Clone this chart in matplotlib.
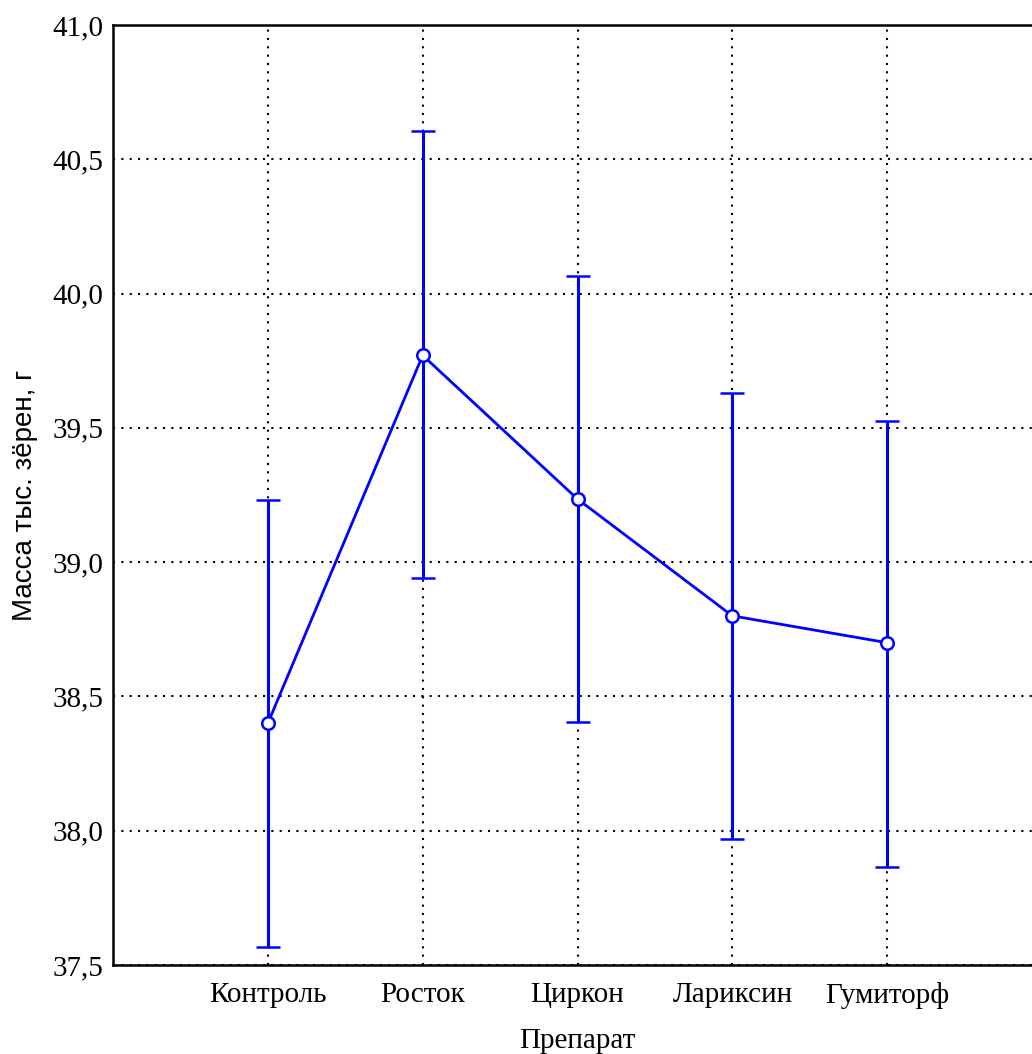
import matplotlib
matplotlib.use("Agg")
import matplotlib.pyplot as plt
import numpy as np

categories = ["Контроль", "Росток", "Циркон", "Лариксин", "Гумиторф"]
means = [38.40, 39.77, 39.235, 38.80, 38.70]
upper = [39.23, 40.605, 40.066, 39.63, 39.526]
lower = [37.567, 38.941, 38.405, 37.969, 37.865]
yticks = [37.5, 38.0, 38.5, 39.0, 39.5, 40.0, 40.5, 41.0]
ytick_labels = ["37,5", "38,0", "38,5", "39,0", "39,5", "40,0", "40,5", "41,0"]

plt.rcParams['font.family'] = ['Liberation Serif', 'DejaVu Serif']

fig = plt.figure(figsize=(10.32, 10.54), dpi=100)
ax = fig.add_axes([113/1032, 1 - 965/1054, (1042-113)/1032, (965-25)/1054])

x = np.arange(len(categories))
m = np.array(means)
yerr = np.array([m - np.array(lower), np.array(upper) - m])

ax.errorbar(x, m, yerr=yerr, color=(0, 0, 1), lw=2.0, elinewidth=2.2, capsize=8.5,
            capthick=2.2, marker='o', ms=9, mfc='white', mec=(0, 0, 1), mew=1.8, zorder=3)

ax.set_xlim(-1, 5)
ax.set_ylim(37.5, 41.0)
ax.set_xticks(x)
ax.set_xticklabels(categories, fontsize=21)
ax.set_yticks(yticks)
ax.set_yticklabels(ytick_labels, fontsize=21)
ax.tick_params(axis='x', length=0, pad=12)
ax.tick_params(axis='y', length=0, pad=7)
ax.grid(True, color='black', linestyle=(0, (1, 3)), linewidth=1.5)
ax.set_axisbelow(True)
for s in ax.spines.values():
    s.set_linewidth(1.8)

ax.set_xlabel("Препарат", fontsize=21, labelpad=14)
ax.set_ylabel("Масса тыс. зёрен, г", fontsize=20, labelpad=10,
              family=['Liberation Sans', 'DejaVu Sans'])

fig.savefig("out.png", dpi=100)
